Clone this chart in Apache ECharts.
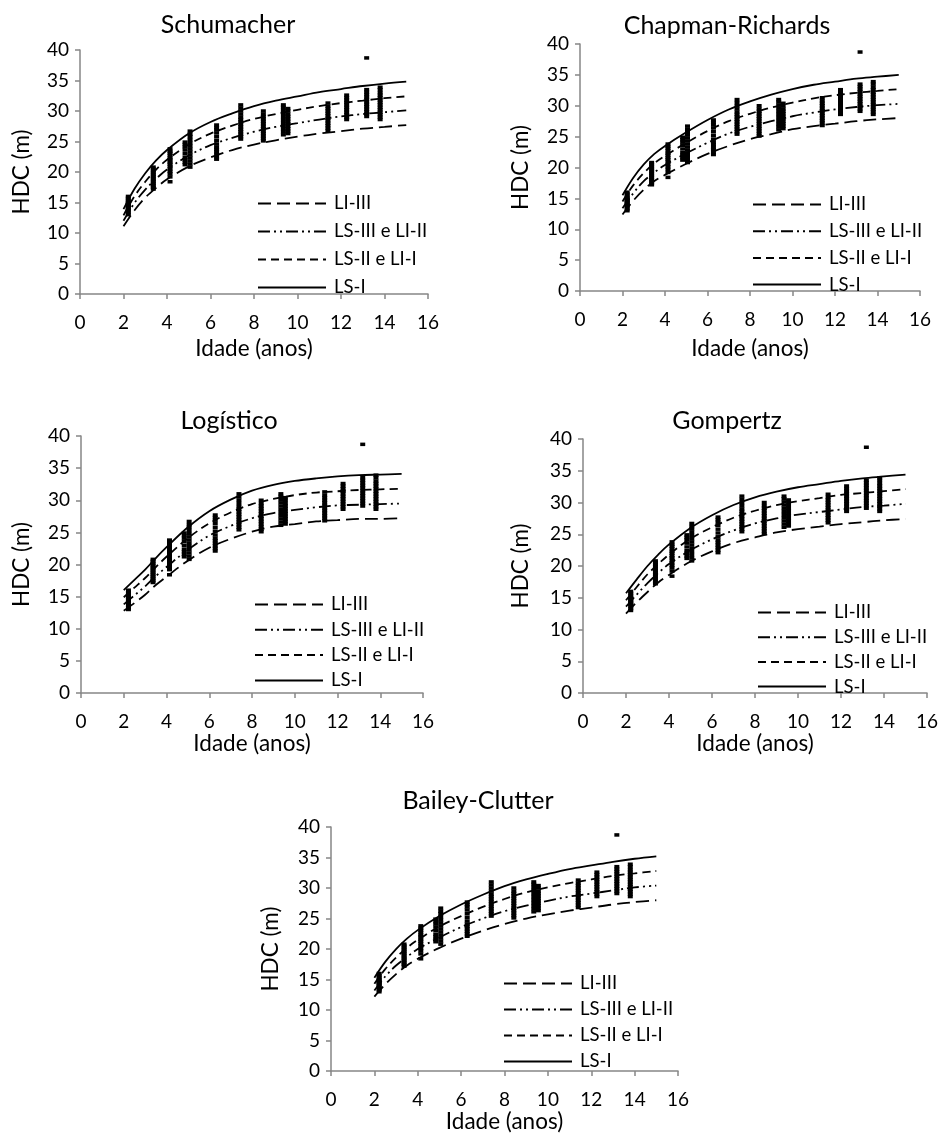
<!DOCTYPE html>
<html><head><meta charset="utf-8">
<script src="https://cdn.jsdelivr.net/npm/echarts@6/dist/echarts.min.js"></script>
<style>html,body{margin:0;padding:0;background:#fff}#c{width:943px;height:1134px}</style>
</head><body><div id="c"></div><script>
// ---------- DATA ----------
const curveAges = [2,2.5,3,3.5,4,5,6,7,8,9,10,11,12,13,14,15];
const seriesNames = ['LI-III','LS-III e LI-II','LS-II e LI-I','LS-I'];
const xTicks = [0,2,4,6,8,10,12,14,16];
const yTicks = [0,5,10,15,20,25,30,35,40];

const schumacherLI3 = [11.1,13.7,15.8,17.4,18.8,20.9,22.4,23.6,24.5,25.2,25.8,26.3,26.7,27.1,27.4,27.7];
const schumacherLS3 = [12.0,14.9,17.1,18.9,20.4,22.7,24.4,25.6,26.6,27.4,28.0,28.6,29.1,29.5,29.8,30.1];
const schumacherLS2 = [12.9,16.0,18.4,20.4,22.0,24.5,26.3,27.6,28.7,29.5,30.2,30.8,31.3,31.7,32.1,32.4];
const schumacherLS1 = [13.9,17.2,19.8,21.9,23.6,26.3,28.2,29.6,30.8,31.7,32.4,33.1,33.6,34.1,34.5,34.8];

const chapmanLI3 = [12.4,14.6,16.4,17.8,18.8,20.6,22.2,23.5,24.6,25.4,26.2,26.7,27.1,27.5,27.8,28.0];
const chapmanLS3 = [13.4,15.8,17.8,19.2,20.4,22.3,24.0,25.5,26.6,27.5,28.3,28.9,29.4,29.8,30.1,30.3];
const chapmanLS2 = [14.5,17.1,19.1,20.7,21.9,24.0,25.9,27.5,28.7,29.7,30.5,31.2,31.7,32.1,32.4,32.7];
const chapmanLS1 = [15.5,18.3,20.5,22.2,23.5,25.7,27.7,29.4,30.7,31.8,32.7,33.4,33.9,34.4,34.7,35.0];

const logisticoLI3 = [12.8,14.0,15.3,16.8,18.1,20.6,22.6,24.0,25.1,25.9,26.3,26.7,26.9,27.1,27.1,27.2];
const logisticoLS3 = [13.8,15.2,16.6,18.2,19.6,22.3,24.5,26.0,27.2,28.0,28.5,28.9,29.2,29.3,29.4,29.5];
const logisticoLS2 = [14.9,16.4,17.9,19.6,21.2,24.1,26.4,28.1,29.4,30.2,30.8,31.2,31.4,31.6,31.7,31.8];
const logisticoLS1 = [16.0,17.6,19.2,21.0,22.7,25.8,28.3,30.1,31.5,32.4,33.0,33.4,33.7,33.9,34.0,34.1];

const gompertzLI3 = [12.5,14.3,15.9,17.4,18.6,20.7,22.3,23.6,24.5,25.3,25.8,26.2,26.6,26.9,27.2,27.4];
const gompertzLS3 = [13.6,15.5,17.3,18.9,20.3,22.5,24.2,25.6,26.7,27.5,28.1,28.5,28.9,29.3,29.5,29.8];
const gompertzLS2 = [14.6,16.7,18.7,20.3,21.8,24.3,26.1,27.6,28.7,29.6,30.2,30.7,31.2,31.5,31.8,32.1];
const gompertzLS1 = [15.7,17.9,20.0,21.8,23.4,26.0,28.0,29.6,30.8,31.7,32.4,32.9,33.4,33.8,34.1,34.4];

const baileyLI3 = [12.2,14.2,15.9,17.3,18.4,20.2,21.7,23.0,24.1,25.0,25.7,26.3,26.8,27.3,27.7,28.0];
const baileyLS3 = [13.2,15.5,17.3,18.7,20.0,21.9,23.6,25.0,26.2,27.1,27.9,28.6,29.1,29.6,30.1,30.4];
const baileyLS2 = [14.3,16.7,18.6,20.2,21.5,23.7,25.4,26.9,28.2,29.3,30.1,30.8,31.4,32.0,32.4,32.8];
const baileyLS1 = [15.3,17.9,20.0,21.7,23.1,25.4,27.3,28.9,30.3,31.4,32.3,33.1,33.7,34.3,34.8,35.2];

// observed dominant heights, one list per measurement age
const obsAges = [2.22,3.37,4.14,4.83,5.06,6.28,7.39,8.43,9.35,9.56,11.4,12.26,13.18,13.8];
const obsHeights = [
  [13.0,13.3,13.6,13.9,14.1,14.3,14.5,14.7,14.9,15.1,15.4,15.7,16.0],
  [17.2,17.5,17.8,18.1,18.4,18.7,19.0,19.3,19.6,19.9,20.2,20.5,20.8],
  [18.4,19.2,19.7,20.1,20.5,20.9,21.3,21.6,22.0,22.3,22.7,23.1,23.4,23.8],
  [21.2,21.6,22.0,22.4,23.0,23.6,24.1,24.5,24.9],
  [20.8,21.3,21.8,22.3,22.8,23.3,23.8,24.3,24.8,25.3,25.8,26.2,26.7],
  [22.1,22.5,22.9,23.3,23.7,24.1,24.6,25.2,25.8,26.4,26.9,27.3,27.7],
  [25.4,25.8,26.2,26.6,27.0,27.4,27.8,28.2,28.6,29.0,29.5,30.0,30.5,31.0],
  [25.1,25.5,25.9,26.3,26.7,27.1,27.5,27.9,28.3,28.7,29.1,29.5,30.0],
  [26.1,26.6,27.1,27.6,28.1,28.6,29.1,29.6,30.1,30.6,31.0],
  [26.3,26.7,27.1,27.5,27.9,28.3,28.7,29.1,29.5,30.0,30.4],
  [26.8,27.2,27.6,28.0,28.4,28.8,29.2,29.6,30.0,30.4,30.8,31.3],
  [28.6,29.0,29.4,29.8,30.2,30.6,31.0,31.4,31.8,32.2,32.6],
  [29.1,29.5,29.9,30.3,30.7,31.1,31.5,31.9,32.3,32.7,33.1,33.5,38.7],
  [28.6,29.0,29.4,29.8,30.2,30.6,31.0,31.4,31.8,32.2,32.6,33.0,33.5,33.9]
];

const modelTitles = ['Schumacher','Chapman-Richards','Logístico','Gompertz','Bailey-Clutter'];
const modelCurves = [
  [schumacherLI3, schumacherLS3, schumacherLS2, schumacherLS1],
  [chapmanLI3, chapmanLS3, chapmanLS2, chapmanLS1],
  [logisticoLI3, logisticoLS3, logisticoLS2, logisticoLS1],
  [gompertzLI3, gompertzLS3, gompertzLS2, gompertzLS1],
  [baileyLI3, baileyLS3, baileyLS2, baileyLS1]
];

// ---------- LAYOUT / STYLE ----------
const FONT = 'Lato, "Open Sans", sans-serif';
const AXIS_COLOR = '#868686';
const TICK_FS = 19, NAME_FS = 22.5, TITLE_FS = 25, LEG_FS = 18.5;
const panels = [
  {grid:{left:80, top:50, width:348, height:244}, tx:228, ty:26, lx:257, ly:203, lstep:27, xg:43, yg:47},
  {grid:{left:580, top:44, width:340, height:247}, tx:727, ty:27, lx:752, ly:204, lstep:25.7, xg:46, yg:48},
  {grid:{left:81, top:436, width:342, height:257}, tx:229, ty:422, lx:254, ly:604, lstep:24.3, xg:39, yg:48},
  {grid:{left:583, top:439, width:344, height:254}, tx:727, ty:422, lx:757, ly:612, lstep:23.7, xg:39, yg:51},
  {grid:{left:331, top:827, width:347, height:247}, tx:478, ty:802, lx:503, ly:983, lstep:25, xg:38, yg:49}
];
const dashStyles = [[13,6],[12,4,2,4,2,4],[8,5],'solid'];

const obsData = [];
obsAges.forEach((a,i)=>obsHeights[i].forEach(h=>obsData.push([a,h])));

const option = {
  animation:false,
  backgroundColor:'#fff',
  textStyle:{fontFamily:FONT},
  title:[], grid:[], xAxis:[], yAxis:[], legend:[], series:[]
};

panels.forEach((p,i)=>{
  option.title.push({text:modelTitles[i], left:p.tx, top:p.ty-TITLE_FS/2-1, textAlign:'center', padding:0,
    textStyle:{fontFamily:FONT, fontSize:TITLE_FS, lineHeight:TITLE_FS, fontWeight:'normal', color:'#000'}});
  option.grid.push(Object.assign({containLabel:false}, p.grid));
  option.xAxis.push({type:'value', gridIndex:i, min:xTicks[0], max:xTicks[xTicks.length-1], interval:2,
    name:'Idade (anos)', nameLocation:'middle', nameGap:p.xg,
    nameTextStyle:{fontFamily:FONT, fontSize:NAME_FS, color:'#000'},
    axisLine:{show:true, onZero:false, lineStyle:{color:AXIS_COLOR, width:1.5}},
    axisTick:{show:true, length:5, lineStyle:{color:AXIS_COLOR, width:1.5}},
    axisLabel:{fontFamily:FONT, fontSize:TICK_FS, color:'#000', margin:19},
    splitLine:{show:false}});
  option.yAxis.push({type:'value', gridIndex:i, min:yTicks[0], max:yTicks[yTicks.length-1], interval:5,
    name:'HDC (m)', nameLocation:'middle', nameGap:p.yg,
    nameTextStyle:{fontFamily:FONT, fontSize:NAME_FS, color:'#000'},
    axisLine:{show:true, onZero:false, lineStyle:{color:AXIS_COLOR, width:1.5}},
    axisTick:{show:true, length:5, lineStyle:{color:AXIS_COLOR, width:1.5}},
    axisLabel:{fontFamily:FONT, fontSize:TICK_FS, color:'#000', margin:11},
    splitLine:{show:false}});
  option.legend.push({orient:'vertical', left:p.lx, top:p.ly-p.lstep/2+ (p.lstep-18)/2, padding:0,
    itemWidth:68, itemHeight:18, itemGap:p.lstep-18,
    selectedMode:false, data:seriesNames,
    itemStyle:{color:'transparent', borderColor:'transparent', borderWidth:0, opacity:0},
    textStyle:{fontFamily:FONT, fontSize:LEG_FS, color:'#000', lineHeight:18, padding:[0,0,0,3]}});
  option.series.push({type:'scatter', name:'Observado', xAxisIndex:i, yAxisIndex:i, silent:true,
    symbol:'rect', symbolSize:[5,3.5], itemStyle:{color:'#000', opacity:1}, data:obsData, z:2});
  modelCurves[i].forEach((arr,k)=>{
    option.series.push({type:'line', name:seriesNames[k], xAxisIndex:i, yAxisIndex:i, silent:true,
      smooth:0.35, symbol:'none', showSymbol:false, z:3,
      lineStyle:{color:'#000', width:1.8, type:dashStyles[k]},
      itemStyle:{color:'#000'},
      data:curveAges.map((a,j)=>[a,arr[j]])});
  });
});

const chart = echarts.init(document.getElementById('c'), null, {renderer:'canvas'});
chart.setOption(option);
</script></body></html>
